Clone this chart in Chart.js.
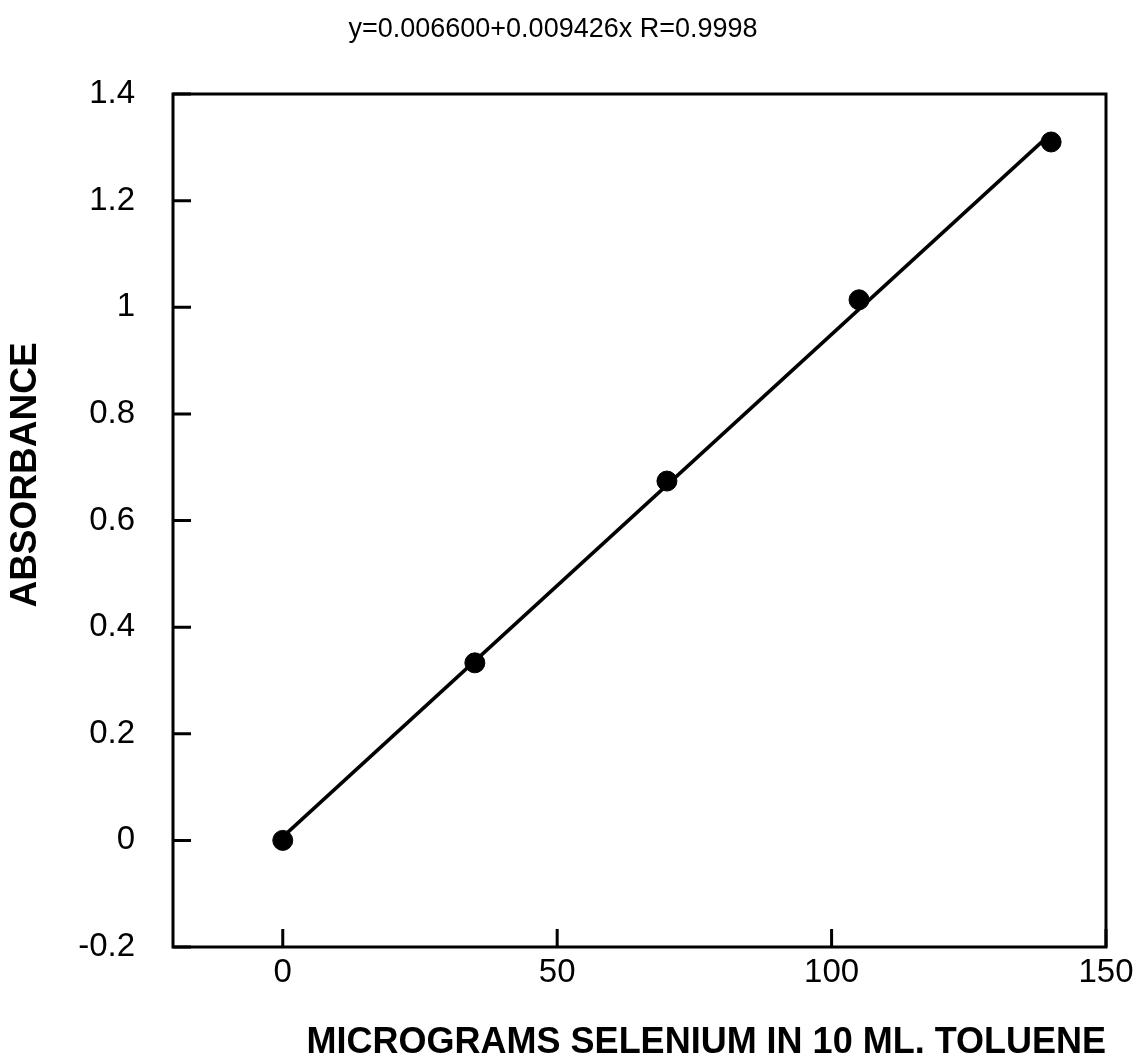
<!DOCTYPE html>
<html>
<head>
<meta charset="utf-8">
<script src="https://cdn.jsdelivr.net/npm/chart.js@4.4.1/dist/chart.umd.min.js"></script>
<style>
  body { margin: 0; background: #ffffff; }
</style>
</head>
<body>
<canvas id="calib" width="1140" height="1061"></canvas>
<script>
// Selenium calibration data
const micrograms = [0, 35, 70, 105, 140];          // x: micrograms Se in 10 ml toluene
const absorbance = [0, 0.333, 0.674, 1.014, 1.310]; // y: absorbance

// least squares line ends (from the equation in the title)
const fitX = [0, 140];
const fitY = [0.0066, 1.3262];

const xTickValues = [0, 50, 100, 150];
const yTickValues = [-0.2, 0, 0.2, 0.4, 0.6, 0.8, 1, 1.2, 1.4];

const chartTitle = 'y=0.006600+0.009426x R=0.9998';
const xTitle = 'MICROGRAMS SELENIUM IN 10 ML. TOLUENE';
const yTitle = 'ABSORBANCE';

const FONT = "'Liberation Sans', Arial, Helvetica, sans-serif";

// box round the plot + inward tick marks + rotated y title
const frame = {
    id: 'frame',
    afterDatasetsDraw(chart) {
        const ctx = chart.ctx;
        const a = chart.chartArea;
        const xs = chart.scales.x, ys = chart.scales.y;
        ctx.save();
        ctx.strokeStyle = '#000';
        ctx.lineWidth = 3;
        ctx.lineCap = 'butt';
        ctx.strokeRect(a.left, a.top, a.right - a.left, a.bottom - a.top);
        ctx.beginPath();
        xs.ticks.forEach(t => {
            const px = xs.getPixelForValue(t.value);
            ctx.moveTo(px, a.bottom);
            ctx.lineTo(px, a.bottom - 18);
        });
        ys.ticks.forEach(t => {
            const py = ys.getPixelForValue(t.value);
            ctx.moveTo(a.left, py);
            ctx.lineTo(a.left + 18, py);
        });
        ctx.stroke();

        // y axis title
        ctx.translate(26, 475);
        ctx.rotate(-Math.PI / 2);
        ctx.font = 'bold 37px ' + FONT;
        ctx.fillStyle = '#000';
        ctx.textAlign = 'center';
        ctx.textBaseline = 'middle';
        ctx.fillText(yTitle, 0, 0);
        ctx.restore();
    }
};

const points = micrograms.map((x, i) => ({x: x, y: absorbance[i]}));
const fitLine = fitX.map((x, i) => ({x: x, y: fitY[i]}));

new Chart(document.getElementById('calib'), {
    type: 'scatter',
    data: {
        datasets: [
            {
                label: 'fit',
                data: fitLine,
                showLine: true,
                borderColor: '#000',
                borderWidth: 3.5,
                pointRadius: 0,
                fill: false
            },
            {
                label: 'data',
                data: points,
                backgroundColor: '#000',
                borderColor: '#000',
                pointRadius: 10,
                pointHoverRadius: 10
            }
        ]
    },
    options: {
        responsive: false,
        animation: false,
        layout: {
            padding: {top: 0, right: 34, bottom: 0, left: 0}
        },
        scales: {
            x: {
                type: 'linear',
                min: -20,
                max: 150,
                afterBuildTicks: s => { s.ticks = xTickValues.map(v => ({value: v})); },
                afterFit: s => { s.height = 114; s.paddingLeft = 0; s.paddingRight = 0; },
                grid: {display: false, drawTicks: false},
                border: {display: false},
                ticks: {
                    padding: 6,
                    color: '#000',
                    font: {family: FONT, size: 33}
                },
                title: {
                    display: true,
                    text: xTitle,
                    align: 'end',
                    color: '#000',
                    padding: 0,
                    font: {family: FONT, size: 36, weight: 'bold', lineHeight: 1}
                }
            },
            y: {
                type: 'linear',
                min: -0.2,
                max: 1.4,
                afterBuildTicks: s => { s.ticks = yTickValues.map(v => ({value: v})); },
                afterFit: s => { s.width = 173; s.paddingTop = 0; s.paddingBottom = 0; },
                grid: {display: false, drawTicks: false},
                border: {display: false},
                ticks: {
                    padding: 38,
                    color: '#000',
                    font: {family: FONT, size: 33},
                    callback: v => Number(v.toFixed(1)).toString()
                }
            }
        },
        plugins: {
            legend: {display: false},
            tooltip: {enabled: false},
            title: {
                display: true,
                text: chartTitle,
                color: '#000',
                font: {family: FONT, size: 27, weight: 'normal', lineHeight: 1.2},
                padding: {top: 13, bottom: 48.6}
            }
        }
    },
    plugins: [frame]
});
</script>
</body>
</html>
